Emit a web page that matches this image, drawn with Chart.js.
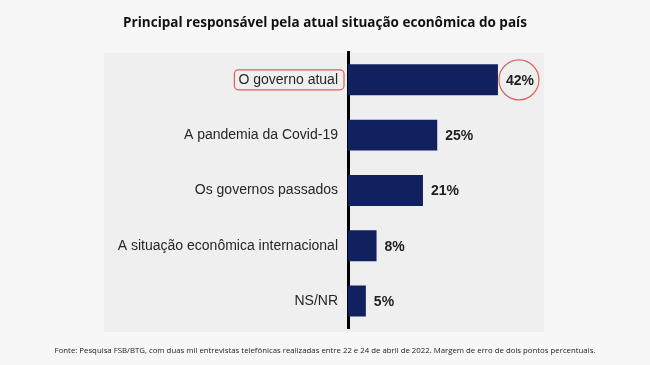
<!DOCTYPE html>
<html>
<head>
<meta charset="utf-8">
<script src="https://cdn.jsdelivr.net/npm/chart.js@4"></script>
<style>
  html, body { margin: 0; padding: 0; background: #f7f7f7; }
  #wrap { width: 650px; height: 365px; }
</style>
</head>
<body>
<div id="wrap"><canvas id="chart" width="650" height="365"></canvas></div>
<script>
const titleText = 'Principal responsável pela atual situação econômica do país';
const sourceText = 'Fonte: Pesquisa FSB/BTG, com duas mil entrevistas telefônicas realizadas entre 22 e 24 de abril de 2022. Margem de erro de dois pontos percentuais.';
const categories = ['O governo atual', 'A pandemia da Covid-19', 'Os governos passados', 'A situação econômica internacional', 'NS/NR'];
const values = [42, 25, 21, 8, 5];
const highlighted = 0;

const barColor = '#112160';
const labelFont = '"Liberation Sans", Arial, sans-serif';

// panel, value labels and the red marks around the first row
const extras = {
    id: 'extras',
    beforeDraw(chart) {
        const ctx = chart.ctx;
        ctx.save();
        ctx.fillStyle = '#f7f7f7';
        ctx.fillRect(0, 0, chart.width, chart.height);
        ctx.fillStyle = '#efefef';
        ctx.fillRect(104, 53, 440, 279);
        ctx.restore();
    },
    afterDatasetsDraw(chart) {
        const ctx = chart.ctx;
        const meta = chart.getDatasetMeta(0);
        ctx.save();
        ctx.font = 'bold 14px ' + labelFont;
        ctx.fillStyle = '#1e1e1e';
        ctx.textBaseline = 'middle';
        meta.data.forEach((bar, i) => {
            const txt = values[i] + '%';
            ctx.fillText(txt, bar.x + 8, bar.y + 1);
            if (i === highlighted) {
                const w = ctx.measureText(txt).width;
                ctx.strokeStyle = '#d9625e';
                ctx.lineWidth = 1.2;
                ctx.beginPath();
                ctx.arc(bar.x + 7 + w / 2, bar.y, 20, 0, Math.PI * 2);
                ctx.stroke();
            }
        });
        // box around highlighted category label
        const yScale = chart.scales.y;
        const ty = yScale.getPixelForTick(highlighted);
        ctx.font = '14px ' + labelFont;
        const lw = ctx.measureText(categories[highlighted]).width;
        const right = chart.chartArea.left - 8;
        ctx.strokeStyle = '#d9625e';
        ctx.lineWidth = 1.2;
        ctx.beginPath();
        ctx.roundRect(right - lw - 6, ty - 10, lw + 10, 20, 4);
        ctx.stroke();
        ctx.restore();
    }
};

new Chart(document.getElementById('chart'), {
    type: 'bar',
    data: {
        labels: categories,
        datasets: [{
            data: values,
            backgroundColor: barColor,
            barPercentage: 0.56,
            categoryPercentage: 1
        }]
    },
    options: {
        indexAxis: 'y',
        responsive: false,
        animation: false,
        layout: { padding: 0 },
        plugins: {
            legend: { display: false },
            tooltip: { enabled: false },
            title: {
                display: true,
                text: titleText,
                color: '#111',
                font: { family: '"Open Sans", sans-serif', size: 13.5, weight: 'bold', lineHeight: 1.2 },
                padding: { top: 15, bottom: 21 }
            },
            subtitle: {
                display: true,
                position: 'bottom',
                text: sourceText,
                color: '#222',
                font: { family: '"Open Sans", sans-serif', size: 7.8, lineHeight: 1.2 },
                padding: { top: 17, bottom: 10 }
            }
        },
        scales: {
            x: {
                display: false,
                min: 0,
                max: 84.6
            },
            y: {
                afterFit(scale) { scale.width = 348; },
                grid: { display: false, drawTicks: false },
                border: { display: true, color: '#000', width: 3 },
                ticks: {
                    color: '#262626',
                    padding: 10,
                    font: { family: labelFont, size: 14 }
                }
            }
        }
    },
    plugins: [extras]
});
</script>
</body>
</html>
